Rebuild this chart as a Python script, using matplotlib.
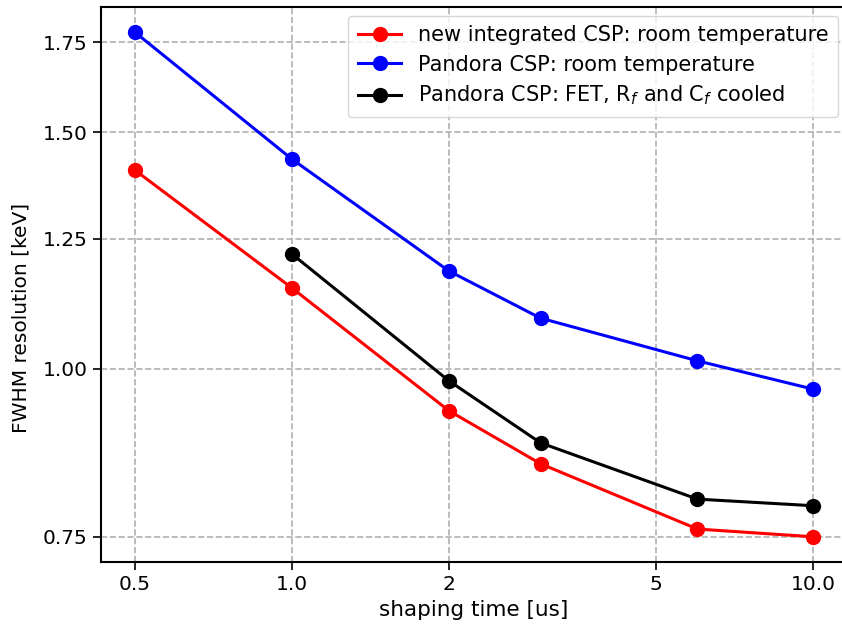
import numpy as np
import matplotlib
matplotlib.use("Agg")
from matplotlib import pyplot as plt
from matplotlib.ticker import FixedLocator, FixedFormatter, NullLocator

# data
shaping_red = [0.5, 1.0, 2, 3, 6, 10]
fwhm_red = [1.406, 1.149, 0.931, 0.850, 0.760, 0.750]
shaping_blue = [0.5, 1.0, 2, 3, 6, 10]
fwhm_blue = [1.781, 1.433, 1.183, 1.091, 1.014, 0.966]
shaping_black = [1.0, 2, 3, 6, 10]
fwhm_black = [1.218, 0.980, 0.881, 0.800, 0.791]

xticks = [0.5, 1.0, 2, 5, 10]
xticklabels = ["0.5", "1.0", "2", "5", "10.0"]
yticks = [0.75, 1.0, 1.25, 1.5, 1.75]
yticklabels = ["0.75", "1.00", "1.25", "1.50", "1.75"]

fig = plt.figure(figsize=(8.42, 6.3), dpi=100)
ax = fig.add_axes([101 / 842, 68 / 630, 746 / 842, 555 / 630])

ax.plot(shaping_red, fwhm_red, "o-", color="red", lw=2.2, ms=10,
        label="new integrated CSP: room temperature")
ax.plot(shaping_blue, fwhm_blue, "o-", color="blue", lw=2.2, ms=10,
        label="Pandora CSP: room temperature")
ax.plot(shaping_black, fwhm_black, "o-", color="black", lw=2.2, ms=10,
        label="Pandora CSP: FET, R$_f$ and C$_f$ cooled")

ax.set_xscale("log")
ax.set_yscale("log")
ax.xaxis.set_major_locator(FixedLocator(xticks))
ax.xaxis.set_major_formatter(FixedFormatter(xticklabels))
ax.xaxis.set_minor_locator(NullLocator())
ax.yaxis.set_major_locator(FixedLocator(yticks))
ax.yaxis.set_major_formatter(FixedFormatter(yticklabels))
ax.yaxis.set_minor_locator(NullLocator())

ax.grid(True, ls="--", color="#b0b0b0", lw=1.2)
ax.tick_params(labelsize=14.5, length=6, width=1.2)
for s in ax.spines.values():
    s.set_linewidth(1.5)
ax.spines["right"].set_visible(False)

ax.set_xlabel("shaping time [us]", fontsize=15.5)
ax.set_ylabel("FWHM resolution [keV]", fontsize=14.5)
ax.yaxis.set_label_coords(-0.095, 0.44)
ax.legend(loc="upper right", fontsize=15, handlelength=2.1, borderpad=0.45,
          labelspacing=0.45, bbox_to_anchor=(1.002, 1.003))

fig.savefig("out.png", dpi=100)
